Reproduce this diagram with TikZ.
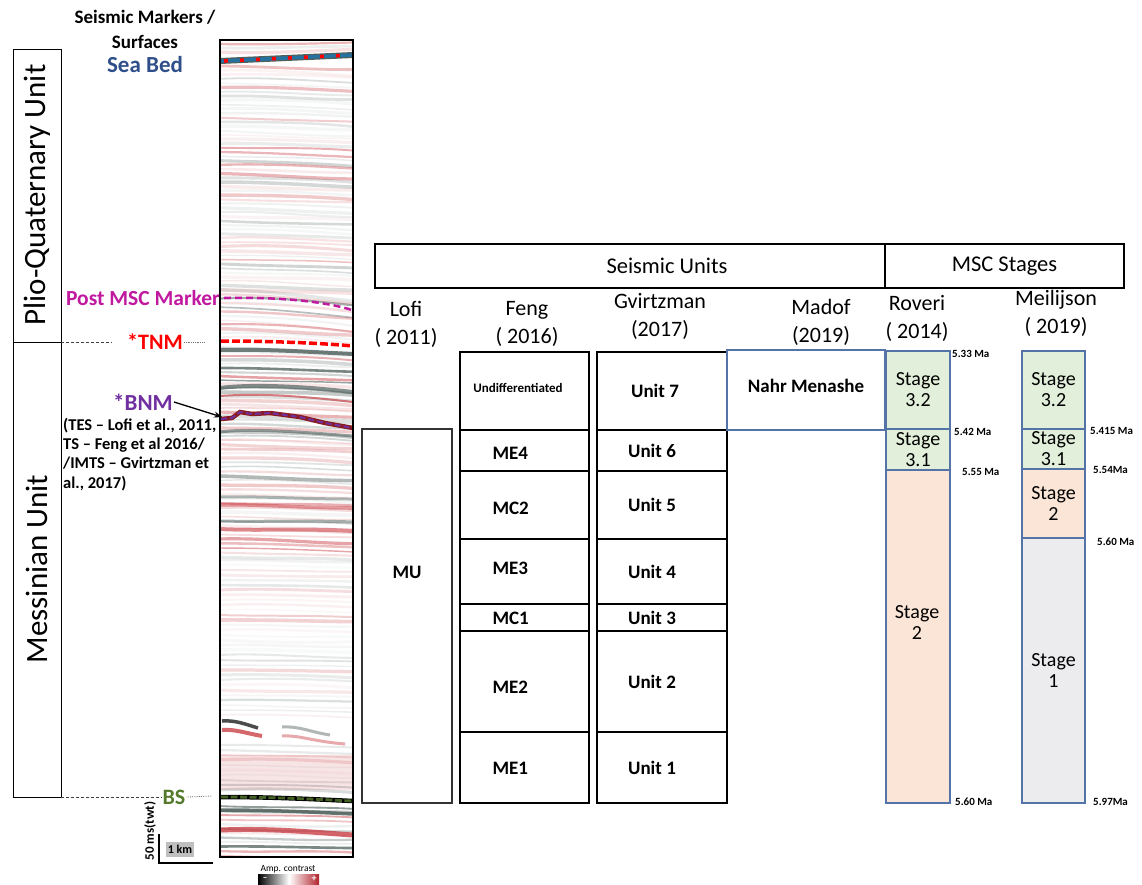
\documentclass[tikz,border=0pt]{standalone}
\usepackage{fontspec}
\setmainfont{Carlito}
\usetikzlibrary{arrows.meta}
\definecolor{sbblue}{HTML}{2F4F8A}
\definecolor{pmsc}{HTML}{C0189F}
\definecolor{bnmpurple}{HTML}{7030A0}
\definecolor{bsgreen}{HTML}{557A2C}
\definecolor{boxblue}{HTML}{5474A8}
\definecolor{stgreen}{HTML}{E2EFDA}
\definecolor{storange}{HTML}{FBE5D6}
\definecolor{stgray}{HTML}{ECECEE}
\definecolor{seisgray}{RGB}{80,96,92}
\definecolor{seisred}{RGB}{196,40,48}
\newcommand\bx[7][]{\node[cellbox,#1,minimum width={#5-#3},minimum height={#6-#4}] (#2) at ({(#3+#5)/2},{(#4+#6)/2}) {#7};}
\begin{document}
\begin{tikzpicture}[x=1pt,y=-1pt,
  cellbox/.style={draw,rectangle,inner sep=0pt,outer sep=0pt,line width=1.5pt,align=center},
  stagebox/.style={draw=boxblue,line width=1.2pt},
  f/.style={font=\fontsize{#1}{#1}\selectfont},
  fb/.style={font=\fontsize{#1}{#1}\selectfont\bfseries},
  hdr/.style={font=\fontsize{22}{28}\selectfont,align=center},
  cell/.style={font=\fontsize{19}{22}\selectfont\bfseries},
  stg/.style={font=\fontsize{20}{21}\selectfont,align=center},
  ma/.style={font=\fontsize{11}{12}\selectfont\bfseries,anchor=west,inner sep=0pt},
]
\useasboundingbox (0,0) rectangle (1142,884);

% ---------- left unit boxes ----------
\bx[line width=1pt]{plio}{13}{49}{61}{342}{}
\bx[line width=1pt]{mess}{13}{342}{61}{797}{}
\node[rotate=90,font=\fontsize{31}{33}\selectfont] (pliot) at (37,195) {Plio-Quaternary Unit};
\node[rotate=90,font=\fontsize{31}{33}\selectfont] (messt) at (37,569) {Messinian Unit};

% ---------- titles / markers ----------
\node[align=center,font=\fontsize{19}{25}\selectfont\bfseries] (title) at (145,29) {Seismic Markers /\\Surfaces};
\node[fb=23,text=sbblue] (seabed) at (145,65) {Sea Bed};
\node[fb=21.5,text=pmsc,inner sep=0pt] (postmsc) at (143,298) {Post MSC Marker};
\node[fb=22,text=red,inner sep=1pt] (tnm) at (155,342) {*TNM};
\node[fb=23,text=bnmpurple,inner sep=1pt] (bnm) at (143,402) {*BNM};
\node[align=left,anchor=north west,inner sep=0pt,font=\fontsize{16.5}{19.2}\selectfont\bfseries] (bnmnote) at (63,418) {(TES -- Lofi et al., 2011,\\TS -- Feng et al 2016/\\/IMTS -- Gvirtzman et\\al., 2017)};
\node[fb=22,text=bsgreen,inner sep=1pt] (bs) at (174,797) {BS};

\coordinate (tnmR) at (205,342);
\coordinate (bsR) at (212,796);
\draw[densely dashed,line width=0.7pt,black!75] (mess.north east) -- (112,342);
\draw[densely dotted,line width=0.8pt,black!55] (tnm.east) -- (tnmR);
\draw[densely dashed,line width=0.7pt,black!75] (mess.south east) -- (bs.west);
\draw[densely dotted,line width=0.8pt,black!55] (bs.east) -- (bsR);

% ---------- seismic panel ----------
\pgfmathsetseed{11}
\begin{scope}
\clip (220,40) rectangle (353,857);
\fill[white] (220,40) rectangle (353,857);
\foreach \ya/\yb/\op/\bend/\st in {44/52/0.5/-3/4, 66/290/0.55/6/4.3, 290/338/0.6/12/4.3, 348/440/0.9/6/4, 440/560/0.6/5/4.5, 560/715/0.3/3/5, 745/790/0.35/4/5, 806/856/0.85/3/4.5}{
  \pgfmathsetmacro\ys{\ya+\st}
  \foreach \y in {\ya,\ys,...,\yb}{
    \pgfmathsetmacro\o{\op*(0.1+0.9*rnd*rnd)}
    \pgfmathsetmacro\w{1.4+2.2*rnd}
    \pgfmathsetmacro\pa{\y+(rnd-0.5)*5}
    \pgfmathsetmacro\pc{\y+\bend*(0.5+0.5*rnd)}
    \pgfmathsetmacro\pb{(\y+\pc)/2+(rnd-0.5)*5}
    \pgfmathtruncatemacro\c{rnd<0.45}
    \ifnum\c=1 \def\col{seisred}\else\def\col{seisgray}\fi
    \draw[\col,opacity=\o,line width=\w] (218,\y) .. controls (265,\pa) and (310,\pb) .. (355,\pc);
  }
}
% strong events
\draw[seisgray,line width=4pt,opacity=0.8] (220,350) .. controls (270,349) and (310,352) .. (353,354);
\draw[seisgray,line width=4pt,opacity=0.7] (220,388) .. controls (250,384) and (300,386) .. (353,392);
\draw[seisred,line width=2pt,opacity=0.6] (220,396) .. controls (260,393) and (300,396) .. (353,402);
\draw[seisgray,line width=3pt,opacity=0.6] (220,432) .. controls (250,428) and (300,432) .. (353,436);
\draw[seisgray,line width=3pt,opacity=0.45] (220,497) .. controls (260,496) and (300,499) .. (353,499);
\draw[seisred,line width=3.5pt,opacity=0.45] (220,505) .. controls (260,504) and (300,508) .. (353,508);
\draw[seisgray,line width=3pt,opacity=0.5] (220,521) .. controls (260,522) and (300,520) .. (353,522);
\draw[seisred,line width=4pt,opacity=0.5] (220,529) .. controls (260,531) and (300,528) .. (353,531);
\draw[black,line width=3.5pt,opacity=0.7] (222,721) .. controls (235,720) and (245,724) .. (258,728);
\draw[seisred,line width=4pt,opacity=0.7] (222,730) .. controls (235,729) and (245,733) .. (262,736);
\draw[seisgray,line width=3pt,opacity=0.45] (282,727) .. controls (300,726) and (310,732) .. (330,735);
\draw[seisred,line width=3pt,opacity=0.4] (282,736) .. controls (300,735) and (310,741) .. (345,744);
\fill[seisred,opacity=0.12] (220,755) rectangle (353,790);
\draw[seisgray,line width=3.5pt,opacity=0.85] (220,810) .. controls (270,810) and (310,812) .. (353,814);
\draw[seisred,line width=5pt,opacity=0.7] (220,830) .. controls (270,828) and (310,832) .. (353,835);
% marker horizons
\draw[seisgray,line width=6pt] (220,61) -- (353,55);
\draw[sbblue!80!cyan,line width=3.5pt] (220,61) -- (353,55);
\draw[red,line width=3.5pt,dash pattern=on 4pt off 12pt] (224,61) -- (353,55);
\draw[pmsc,line width=2.5pt,dash pattern=on 7pt off 4pt] (224,298) .. controls (270,297) and (320,300) .. (352,310);
\draw[red,line width=3.5pt,dash pattern=on 8pt off 3pt] (221,341) .. controls (270,341) and (320,343) .. (353,346);
\draw[seisred!70!black,line width=4.5pt] (221,419) -- (232,418) -- (240,412) -- (252,414) -- (270,413) -- (300,417) -- (325,423) -- (353,428);
\draw[bnmpurple,line width=2pt,dash pattern=on 6pt off 3pt] (221,419) -- (232,418) -- (240,412) -- (252,414) -- (270,413) -- (300,417) -- (325,423) -- (353,428);
\draw[black,line width=4.5pt] (221,797) .. controls (270,797) and (310,799) .. (353,801);
\draw[bsgreen!80!black,line width=2.8pt,dash pattern=on 7pt off 2.5pt] (221,797) .. controls (270,797) and (310,799) .. (353,801);
\end{scope}
\node[draw,line width=2pt,inner sep=0pt,minimum width=133,minimum height=817] (panel) at (286.5,448.5) {};
\coordinate (bnmtip) at (222,417);
\draw[-{Stealth[length=8pt,width=6pt]},line width=1.3pt] (bnm.east) -- (bnmtip);

% scale bar
\node[rotate=90,fb=13,inner sep=0pt] (ms) at (150,831) {50 ms(twt)};
\coordinate (sbtop) at (159,834);
\coordinate (sbcorner) at (159,863);
\coordinate (sbright) at (213,863);
\draw[line width=2.5pt] (sbtop) -- (sbcorner) -- (sbright);
\node[fill=black!25,fb=12,inner sep=1.5pt,minimum width=26,minimum height=15] (km) at (180,849.5) {1 km};
% colour bar
\node[f=9.5,inner sep=0pt] (amp) at (288,869) {Amp. contrast};
\shade[left color=black,right color=white] (258,874) rectangle (289,884);
\shade[left color=white,right color=seisred!90!black] (289,874) rectangle (319,884);
\node[text=white,fb=9,inner sep=0pt] (minus) at (265,879) {--};
\node[text=white,fb=10,inner sep=0pt] (plus) at (314,879) {+};

% ---------- table headers ----------
\bx{seis}{375}{244}{885}{288}{}
\node[f=22.5] (seist) at (667,266) {Seismic Units};
\bx{msc}{885}{244}{1124}{288}{\fontsize{22.5}{24}\selectfont MSC Stages}
\node[hdr] (hlofi) at (406,324) {Lofi\\( 2011)};
\node[hdr] (hfeng) at (527,324) {Feng\\( 2016)};
\node[hdr] (hgv) at (660,316) {Gvirtzman\\(2017)};
\node[hdr] (hmad) at (821,322) {Madof\\(2019)};
\node[hdr] (hrov) at (917,318) {Roveri\\( 2014)};
\node[hdr] (hmei) at (1056,313) {Meilijson\\( 2019)};

% Lofi
\bx[line width=1.2pt,draw=black!80]{mu}{362}{429}{452}{803}{}
\node[cell] (mut) at (407,572) {MU};

% Feng
\bx{fu}{460}{352}{589}{430}{}
\bx{f4}{460}{430}{589}{471}{}
\bx{fc2}{460}{471}{589}{539}{}
\bx{f3}{460}{539}{589}{604}{}
\bx{fc1}{460}{604}{589}{631}{}
\bx{f2}{460}{631}{589}{732}{}
\bx{f1}{460}{732}{589}{803}{}
\node[fb=13] (fut) at (518,388) {Undifferentiated};
\node[cell,anchor=west] (f4t) at (489,453) {ME4};
\node[cell,anchor=west] (fc2t) at (489,508) {MC2};
\node[cell,anchor=west] (f3t) at (489,568) {ME3};
\node[cell,anchor=west] (fc1t) at (489,618) {MC1};
\node[cell,anchor=west] (f2t) at (489,687) {ME2};
\node[cell,anchor=west] (f1t) at (489,768) {ME1};

% Gvirtzman
\bx[cell]{g7}{597}{352}{727}{430}{\hspace*{-14pt}Unit 7}
\bx[cell]{g6}{597}{430}{727}{471}{\hspace*{-20pt}Unit 6}
\bx[cell]{g5}{597}{471}{727}{539}{\hspace*{-20pt}Unit 5}
\bx[cell]{g4}{597}{539}{727}{604}{\hspace*{-20pt}Unit 4}
\bx[cell]{g3}{597}{604}{727}{631}{\hspace*{-20pt}Unit 3}
\bx[cell]{g2}{597}{631}{727}{732}{\hspace*{-20pt}Unit 2}
\bx[cell]{g1}{597}{732}{727}{803}{\hspace*{-20pt}Unit 1}

% Madof
\bx[stagebox,cell]{nahr}{727}{350}{885}{430}{\raisebox{9pt}{Nahr Menashe}}

% Roveri
\bx[stagebox,fill=stgreen,stg]{r32}{886}{351}{950}{429}{Stage\\3.2}
\bx[stagebox,fill=stgreen,stg]{r31}{886}{429}{950}{470}{Stage\\3.1}
\bx[stagebox,fill=storange]{r2}{886}{470}{950}{803}{}
\node[stg] (r2t) at (917,622) {Stage\\2};

% Meilijson
\bx[stagebox,fill=stgreen,stg]{m32}{1022}{351}{1085}{429}{Stage\\3.2}
\bx[stagebox,fill=stgreen,stg]{m31}{1022}{429}{1085}{469}{Stage\\3.1}
\bx[stagebox,fill=storange,stg]{m2}{1022}{469}{1085}{538}{Stage\\2}
\bx[stagebox,fill=stgray,stg]{m1}{1022}{538}{1085}{803}{Stage\\1}

% ages
\node[ma] (a533) at (952,354) {5.33 Ma};
\node[ma] (a542) at (954,432) {5.42 Ma};
\node[ma] (a555) at (962,472) {5.55 Ma};
\node[ma] (a560r) at (955,802) {5.60 Ma};
\node[ma] (a5415) at (1090,431) {5.415 Ma};
\node[ma] (a554) at (1093,470) {5.54Ma};
\node[ma] (a560m) at (1097,542) {5.60 Ma};
\node[ma] (a597) at (1093,802) {5.97Ma};
\end{tikzpicture}
\end{document}
